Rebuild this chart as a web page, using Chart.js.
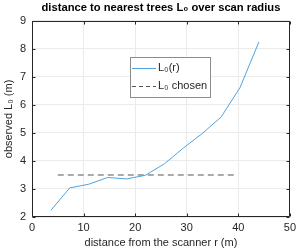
<!DOCTYPE html>
<html>
<head>
<meta charset="utf-8">
<script src="https://cdn.jsdelivr.net/npm/chart.js@4/dist/chart.umd.min.js"></script>
<style>
  html, body { margin: 0; padding: 0; background: #fff; }
  #wrap { width: 300px; height: 250px; }
</style>
</head>
<body>
<div id="wrap"><canvas id="radiusChart" width="300" height="250"></canvas></div>
<script>
// scan radius r (m) and observed nearest tree distance L0 (m)
const radius = [3.67, 7.33, 11, 14.67, 18.33, 22, 25.67, 29.33, 33, 36.67, 40.33, 44];
const observedL0 = [2.24, 3.04, 3.17, 3.41, 3.36, 3.49, 3.9, 4.46, 4.98, 5.57, 6.62, 8.25];
// chosen L0, drawn as a horizontal dashed line
const chosenRange = [5, 39.5];
const chosenL0 = 3.5;
const xTicks = [0, 10, 20, 30, 40, 50];
const yTicks = [2, 3, 4, 5, 6, 7, 8, 9];
const legendLabels = ['L\u2080(r)', 'L\u2080 chosen'];

const blue = '#4fa3dc';
const dashGray = '#555555';
const axisColor = '#262626';
const fontFamily = 'Arial, "Liberation Sans", Helvetica, sans-serif';

// MATLAB style box, inward ticks and a legend inside the axes
const boxPlugin = {
    id: 'boxPlugin',
    afterDraw(chart) {
        const ctx = chart.ctx;
        const a = chart.chartArea;
        const xs = chart.scales.x, ys = chart.scales.y;
        const L = Math.round(a.left) + 0.5, R = Math.round(a.right) - 0.5;
        const T = Math.round(a.top) + 0.5, B = Math.round(a.bottom) - 0.5;
        ctx.save();
        ctx.strokeStyle = axisColor;
        ctx.lineWidth = 1;
        ctx.beginPath();
        ctx.rect(L, T, R - L, B - T);
        xTicks.forEach(v => {
            const px = Math.round(xs.getPixelForValue(v)) + 0.5;
            ctx.moveTo(px, B); ctx.lineTo(px, B - 3);
            ctx.moveTo(px, T); ctx.lineTo(px, T + 3);
        });
        yTicks.forEach(v => {
            const py = Math.round(ys.getPixelForValue(v)) + 0.5;
            ctx.moveTo(L, py); ctx.lineTo(L + 3, py);
            ctx.moveTo(R, py); ctx.lineTo(R - 3, py);
        });
        ctx.stroke();

        // legend
        const lx = xs.getPixelForValue(19), ly = ys.getPixelForValue(7.7);
        const lw = 80, lh = 40;
        ctx.fillStyle = '#fff';
        ctx.fillRect(Math.round(lx) + 0.5, Math.round(ly) + 0.5, lw, lh);
        ctx.strokeStyle = '#8c8c8c';
        ctx.strokeRect(Math.round(lx) + 0.5, Math.round(ly) + 0.5, lw, lh);
        const rows = [
            { color: blue, dash: [], y: ly + 11 },
            { color: dashGray, dash: [4, 3], y: ly + 29 }
        ];
        ctx.font = '11px ' + fontFamily;
        ctx.textBaseline = 'middle';
        rows.forEach((row, i) => {
            ctx.strokeStyle = row.color;
            ctx.setLineDash(row.dash);
            ctx.beginPath();
            ctx.moveTo(lx + 2, Math.round(row.y) + 0.5);
            ctx.lineTo(lx + 26, Math.round(row.y) + 0.5);
            ctx.stroke();
            ctx.setLineDash([]);
            ctx.fillStyle = axisColor;
            ctx.fillText(legendLabels[i], lx + 28, row.y);
        });
        ctx.restore();
    }
};

const ctx = document.getElementById('radiusChart').getContext('2d');
new Chart(ctx, {
    type: 'line',
    data: {
        datasets: [{
            label: legendLabels[0],
            data: radius.map((r, i) => ({ x: r, y: observedL0[i] })),
            borderColor: blue,
            borderWidth: 1,
            pointRadius: 0,
            tension: 0
        }, {
            label: legendLabels[1],
            data: chosenRange.map(r => ({ x: r, y: chosenL0 })),
            borderColor: dashGray,
            borderWidth: 1,
            borderDash: [6, 4],
            pointRadius: 0
        }]
    },
    options: {
        responsive: false,
        animation: false,
        layout: { padding: { left: 0, right: 8, top: 0, bottom: 0 } },
        scales: {
            x: {
                type: 'linear',
                min: 0,
                max: 50,
                afterFit: s => { s.height = 33; },
                afterBuildTicks: s => { s.ticks = xTicks.map(v => ({ value: v })); },
                grid: { color: '#ebebeb', drawTicks: false },
                border: { display: false },
                ticks: { color: axisColor, padding: 4, font: { family: fontFamily, size: 11 } },
                title: {
                    display: true,
                    text: 'distance from the scanner r (m)',
                    color: axisColor,
                    padding: { top: 0, bottom: 0 },
                    font: { family: fontFamily, size: 11 }
                }
            },
            y: {
                min: 2,
                max: 9,
                afterFit: s => { s.width = 32; },
                afterBuildTicks: s => { s.ticks = yTicks.map(v => ({ value: v })); },
                grid: { color: '#ebebeb', drawTicks: false },
                border: { display: false },
                ticks: { color: axisColor, padding: 6, font: { family: fontFamily, size: 11 } },
                title: {
                    display: true,
                    text: 'observed L\u2080 (m)',
                    color: axisColor,
                    padding: { top: 2, bottom: 0 },
                    font: { family: fontFamily, size: 11 }
                }
            }
        },
        plugins: {
            legend: { display: false },
            tooltip: { enabled: false },
            title: {
                display: true,
                fullSize: false,
                text: 'distance to nearest trees L\u2080 over scan radius',
                color: '#000',
                padding: { top: 1.5, bottom: 6 },
                font: { family: fontFamily, size: 11.2, weight: 'bold' }
            }
        }
    },
    plugins: [boxPlugin]
});
</script>
</body>
</html>
